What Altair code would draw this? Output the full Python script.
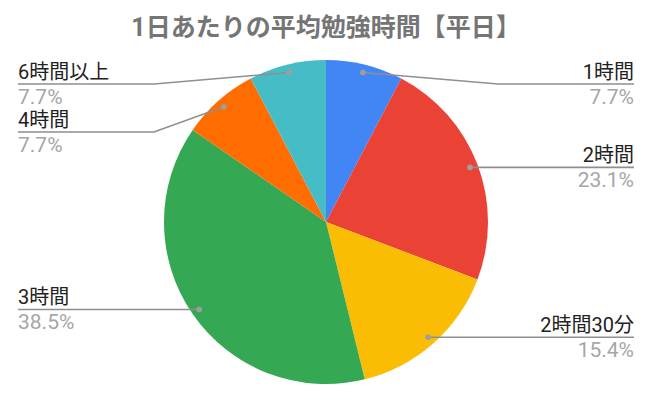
import altair as alt
import pandas as pd
import numpy as np

# ---- data ----
categories = ["1時間", "2時間", "2時間30分", "3時間", "4時間", "6時間以上"]
counts = [1, 3, 2, 5, 1, 1]
colors = ["#4285F4", "#EA4335", "#FBBC04", "#34A853", "#FF6D01", "#46BDC6"]
title_text = "1日あたりの平均勉強時間【平日】"

# ---- layout ----
W, H = 634, 386
CX, CY, R = 326, 222, 162   # pie centre / radius in page pixels
DOT_R = 154
LEFT_X, RIGHT_X = 18, 634
ELBOW = 172
MIN_LINE_Y, GAP = 84, 48
LABEL_FS, PCT_FS, TITLE_FS = 20, 21, 25

total = sum(counts)
df = pd.DataFrame({"name": categories, "v": counts, "order": range(len(counts))})
cum = np.cumsum(counts)
start = (cum - df["v"]) / total * 2 * np.pi
mid = start + df["v"] / total * np.pi
df["pct"] = [f"{v / total * 100:.1f}%" for v in counts]
df["dx"] = CX + DOT_R * np.sin(mid)
df["dy"] = CY - DOT_R * np.cos(mid)
df["side"] = np.where(np.sin(mid) > 0, "R", "L")

# simple label collision avoidance per side
line_y = {}
for s in ["R", "L"]:
    sub = df[df.side == s].sort_values("dy")
    last = None
    for i, row in sub.iterrows():
        y = max(row["dy"], MIN_LINE_Y)
        if last is not None:
            y = max(y, last + GAP)
        line_y[i] = y
        last = y
df["ly"] = pd.Series(line_y)
df["ex"] = np.where(df.side == "R", RIGHT_X, LEFT_X)
df["elx"] = np.where(df.side == "R", CX + ELBOW, CX - ELBOW)
df["ty"] = df["ly"] - 5
df["py"] = df["ly"] + 3

pts = []
for _, r in df.iterrows():
    horiz = abs(r["ly"] - r["dy"]) < 1
    pts.append({"name": r["name"], "k": 0, "x": r["dx"], "y": r["dy"]})
    if not horiz:
        pts.append({"name": r["name"], "k": 1, "x": r["elx"], "y": r["ly"]})
    pts.append({"name": r["name"], "k": 2, "x": r["ex"], "y": r["ly"]})
lines = pd.DataFrame(pts)

xs = alt.Scale(domain=[8, 8 + W], nice=False, zero=False)
ys = alt.Scale(domain=[8, 8 + H], nice=False, zero=False, reverse=True)
X = lambda f: alt.X(f, type="quantitative", scale=xs, axis=None)
Y = lambda f: alt.Y(f, type="quantitative", scale=ys, axis=None)

pie = alt.Chart(df).mark_arc(radius=R).encode(
    theta=alt.Theta("v:Q", stack=True),
    order=alt.Order("order:Q"),
    color=alt.Color("name:N", scale=alt.Scale(domain=categories, range=colors), legend=None),
    x=alt.value(CX - 8), y=alt.value(CY - 8),
)

leader = alt.Chart(lines).mark_line(color="#8f8f8f", strokeWidth=1.6).encode(
    x=X("x"), y=Y("y"), detail="name:N", order="k:Q"
)
dots = alt.Chart(df).mark_circle(color="#9e9e9e", size=32, opacity=1).encode(x=X("dx"), y=Y("dy"))

font = "Roboto, 'Noto Sans CJK JP', sans-serif"
def labels(side, align):
    base = alt.Chart(df[df.side == side])
    name = base.mark_text(align=align, baseline="alphabetic", fontSize=LABEL_FS, color="#222222", font=font).encode(
        x=X("ex"), y=Y("ty"), text="name:N")
    pc = base.mark_text(align=align, baseline="top", fontSize=PCT_FS, color="#a6a6a6", font=font).encode(
        x=X("ex"), y=Y("py"), text="pct:N")
    return name + pc

title = alt.Chart(pd.DataFrame({"t": [title_text]})).mark_text(
    fontSize=TITLE_FS, fontWeight="bold", color="#757575", font=font, baseline="middle", align="center"
).encode(text="t:N", x=alt.value(CX - 8), y=alt.value(28 - 8))

chart = alt.layer(pie, leader, dots, labels("R", "right"), labels("L", "left"), title).properties(
    width=W, height=H, autosize=alt.AutoSizeParams(type="none"), padding=0
).configure_view(stroke=None)

chart.save("out.html", embed_options={"renderer": "svg", "actions": False})
